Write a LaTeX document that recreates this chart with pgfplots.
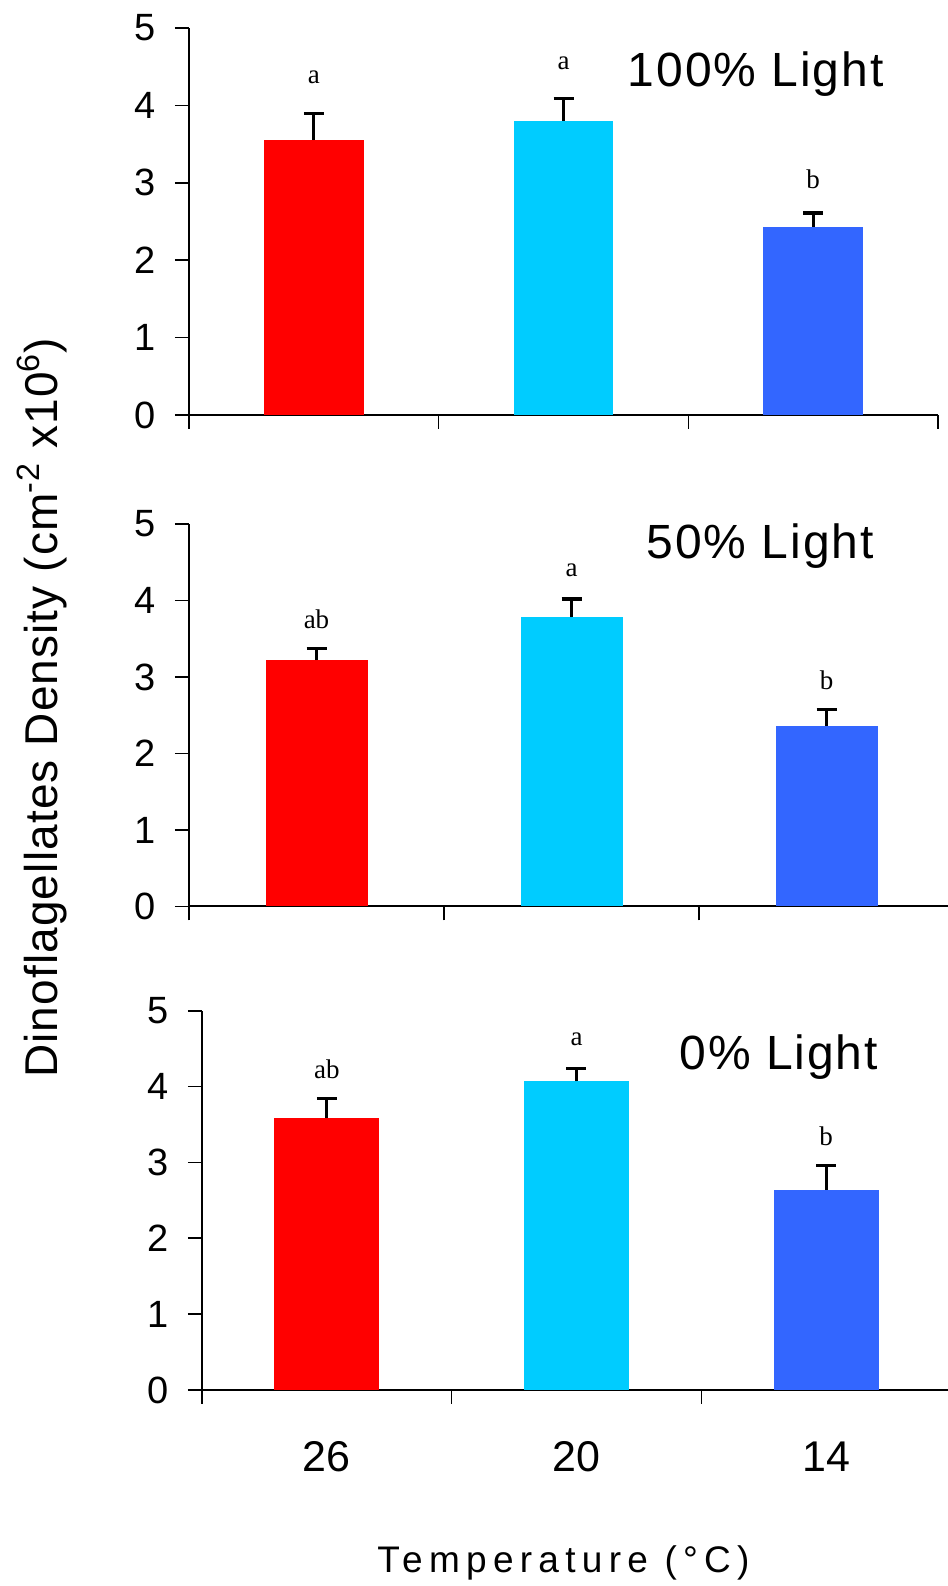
\documentclass[border=0pt]{standalone}
\usepackage{pgfplots}
\pgfplotsset{compat=1.18}
\usepackage{fontspec}
\setmainfont{Liberation Sans}
\newfontfamily\letterfont{Liberation Serif}
\definecolor{barred}{HTML}{FF0000}
\definecolor{barcyan}{HTML}{00CCFF}
\definecolor{barblue}{HTML}{3366FF}

\pgfplotsset{
  panel/.style={
    scale only axis, axis lines=left, axis line style={-, line width=1pt},
    xmin=0, xmax=3, ymin=0, ymax=5,
    xtick={0,1,2,3}, xticklabels={}, ytick={0,1,2,3,4,5},
    tick align=outside, major tick length=7pt,
    tick style={black, line width=0.8pt},
    ticklabel style={font=\fontsize{19}{19}\selectfont},
    yticklabel style={xshift=-6pt},
    /pgf/number format/assume math mode=true,
    clip=false,
  },
  sbar/.style={ybar, bar shift=0pt, draw=none, fill=#1,
    error bars/.cd, y dir=plus, y explicit,
    error bar style={black, line width=1.6pt},
    error mark options={black, line width=1.6pt, mark size=5pt, rotate=90}},
}
\newcommand\grp[3]{\node[font=\letterfont\fontsize{13.5}{13.5}\selectfont] at (axis cs:#1,#2) {#3};}
\newcommand\ttl[3]{\node[font=\fontsize{24}{24}\selectfont\addfontfeature{LetterSpace=4}] at (axis cs:#1,#2) {#3};}

\begin{document}
\begin{tikzpicture}
\useasboundingbox (0,0) rectangle (474pt,793pt);

% 100% light
\begin{axis}[panel, at={(94.5pt,585.5pt)}, anchor=south west,
  width=374.5pt, height=193.5pt, bar width=0.40]
\addplot[sbar=barred]  coordinates {(0.5,3.55) +- (0,0.35)};
\addplot[sbar=barcyan] coordinates {(1.5,3.80) +- (0,0.29)};
\addplot[sbar=barblue] coordinates {(2.5,2.43) +- (0,0.18)};
\grp{0.5}{4.36}{a}
\grp{1.5}{4.54}{a}
\grp{2.5}{3.05}{b}
\ttl{2.27}{4.41}{100\% Light}
\end{axis}

% 50% light
\begin{axis}[panel, at={(94.5pt,339.75pt)}, anchor=south west,
  width=382.5pt, height=191.25pt, bar width=0.40]
\addplot[sbar=barred]  coordinates {(0.5,3.22) +- (0,0.15)};
\addplot[sbar=barcyan] coordinates {(1.5,3.78) +- (0,0.24)};
\addplot[sbar=barblue] coordinates {(2.5,2.36) +- (0,0.21)};
\grp{0.5}{3.75}{ab}
\grp{1.5}{4.40}{a}
\grp{2.5}{2.96}{b}
\ttl{2.24}{4.71}{50\% Light}
\end{axis}

% 0% light
\begin{axis}[panel, at={(101pt,98pt)}, anchor=south west,
  width=374.5pt, height=189.65pt, bar width=0.42,
  extra x ticks={0.5,1.5,2.5}, extra x tick labels={26,20,14},
  extra x tick style={major tick length=0pt,
    xticklabel style={font=\fontsize{21.5}{21.5}\selectfont, anchor=center, yshift=-33.5pt}}]
\addplot[sbar=barred]  coordinates {(0.5,3.58) +- (0,0.26)};
\addplot[sbar=barcyan] coordinates {(1.5,4.07) +- (0,0.17)};
\addplot[sbar=barblue] coordinates {(2.5,2.64) +- (0,0.32)};
\grp{0.5}{4.23}{ab}
\grp{1.5}{4.62}{a}
\grp{2.5}{3.35}{b}
\ttl{2.31}{4.39}{0\% Light}
\end{axis}

\node[rotate=90, font=\fontsize{23}{23}\selectfont\addfontfeature{LetterSpace=2.5}]
  at (21pt,439pt) {Dinoflagellates Density (cm\textsuperscript{-2} x10\textsuperscript{6})};
\node[font=\fontsize{18.5}{18.5}\selectfont\addfontfeature{LetterSpace=17}]
  at (281.75pt,11.5pt) {Temperature (°C)};
\end{tikzpicture}
\end{document}
